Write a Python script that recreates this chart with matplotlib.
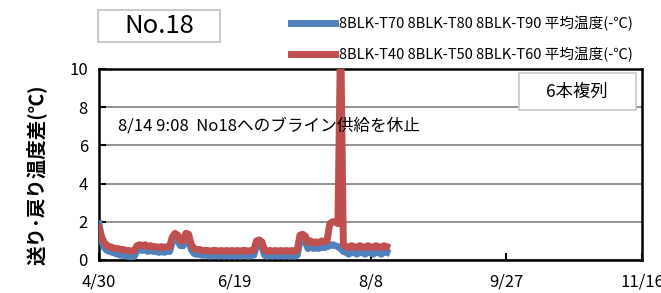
import matplotlib
matplotlib.use("Agg")
import matplotlib.pyplot as plt
from matplotlib.patches import Rectangle

plt.rcParams['font.family'] = ['Noto Sans CJK JP', 'DejaVu Sans']

# day offsets from 4/30 (daily readings)
days = list(range(0, 107))

red_vals = [1.7, 1.2, 0.9, 0.75, 0.7, 0.65, 0.6, 0.6, 0.55, 0.55,
            0.5, 0.5, 0.45, 0.5, 0.75, 0.8, 0.75, 0.8, 0.7, 0.75,
            0.7, 0.7, 0.65, 0.7, 0.65, 0.7, 0.7, 1.2, 1.4, 1.3,
            1.0, 1.0, 1.4, 1.35, 0.8, 0.6, 0.55, 0.55, 0.5, 0.5,
            0.5, 0.45, 0.5, 0.5, 0.45, 0.5, 0.45, 0.5, 0.45, 0.5,
            0.45, 0.5, 0.45, 0.5, 0.5, 0.45, 0.5, 0.5, 1.0, 1.05,
            0.95, 0.5, 0.45, 0.5, 0.45, 0.5, 0.45, 0.5, 0.45, 0.5,
            0.45, 0.5, 0.45, 0.5, 1.3, 1.35, 1.25, 0.9, 1.0, 0.9,
            0.95, 0.9, 1.0, 0.95, 1.0, 1.9, 2.0, 2.0, 1.9, 12.0,
            0.8, 0.7, 0.65, 0.75, 0.7, 0.65, 0.75, 0.7, 0.65, 0.75,
            0.7, 0.65, 0.75, 0.7, 0.65, 0.75, 0.7]

blue_vals = [1.9, 1.0, 0.65, 0.5, 0.45, 0.4, 0.35, 0.3, 0.25, 0.25,
             0.2, 0.2, 0.15, 0.2, 0.5, 0.55, 0.5, 0.55, 0.45, 0.5,
             0.45, 0.45, 0.4, 0.45, 0.4, 0.45, 0.45, 0.95, 1.1, 1.0,
             0.75, 0.75, 1.1, 1.05, 0.55, 0.35, 0.3, 0.3, 0.25, 0.25,
             0.25, 0.2, 0.25, 0.25, 0.2, 0.25, 0.2, 0.25, 0.2, 0.25,
             0.2, 0.25, 0.2, 0.25, 0.25, 0.2, 0.25, 0.25, 0.75, 0.8,
             0.7, 0.25, 0.2, 0.25, 0.2, 0.25, 0.2, 0.25, 0.2, 0.25,
             0.2, 0.25, 0.2, 0.25, 1.0, 1.05, 0.95, 0.6, 0.7, 0.6,
             0.65, 0.6, 0.7, 0.65, 0.7, 0.75, 0.8, 0.75, 0.7, 0.6,
             0.45, 0.4, 0.3, 0.45, 0.4, 0.3, 0.45, 0.4, 0.3, 0.45,
             0.4, 0.3, 0.45, 0.4, 0.3, 0.45, 0.4]

xtick_pos = [0, 50, 100, 150, 200]
xtick_labels = ["4/30", "6/19", "8/8", "9/27", "11/16"]
ytick_pos = [0, 2, 4, 6, 8, 10]

blue_label = "8BLK-T70 8BLK-T80 8BLK-T90 平均温度(-℃)"
red_label = "8BLK-T40 8BLK-T50 8BLK-T60 平均温度(-℃)"

W, H = 661, 293
fig = plt.figure(figsize=(W / 100, H / 100), dpi=100)
ax = fig.add_axes([99 / W, 1 - 260 / H, (642 - 99) / W, (260 - 69) / H])

lb, = ax.plot(days, blue_vals, color="#4F81BD", lw=5, solid_joinstyle="round", zorder=3)
lr, = ax.plot(days, red_vals, color="#C0504D", lw=5, solid_joinstyle="round", zorder=4)

ax.set_xlim(0, 200)
ax.set_ylim(0, 10)
ax.set_xticks(xtick_pos)
ax.set_xticklabels(xtick_labels, fontsize=12)
ax.set_yticks(ytick_pos)
ax.set_yticklabels([str(v) for v in ytick_pos], fontsize=12)
ax.tick_params(direction="in", length=5, width=1.5, color="black")
ax.tick_params(axis="x", pad=10)
ax.tick_params(axis="y", pad=8)
ax.yaxis.grid(True, color="#888888", lw=1.3)
ax.set_axisbelow(True)
for s in ax.spines.values():
    s.set_linewidth(1.8)
    s.set_color("black")

fig.text(36 / W, 1 - 175 / H, "送り･戻り温度差(℃)", fontsize=14, fontweight="bold",
         rotation=90, ha="center", va="center")

fig.text(118 / W, 1 - 126 / H, "8/14 9:08  No18へのブライン供給を休止",
         fontsize=12, va="center", ha="left", zorder=5)

# "6本複列" box
fig.add_artist(Rectangle((519 / W, 1 - 110 / H), 117 / W, 37 / H, transform=fig.transFigure,
                         fc="white", ec="#c8c8c8", lw=1.2, zorder=6))
fig.text(577 / W, 1 - 92 / H, "6本複列", fontsize=12.5, ha="center", va="center", zorder=7)

# title box
fig.add_artist(Rectangle((98 / W, 1 - 42 / H), 122 / W, 32 / H, transform=fig.transFigure,
                         fc="white", ec="#c0c0c0", lw=1.2, zorder=6))
fig.text(159 / W, 1 - 26 / H, "No.18", fontsize=18.5, ha="center", va="center", zorder=7)

fig.legend([lb, lr], [blue_label, red_label], loc="upper left",
           bbox_to_anchor=(284 / W, 1 - 9 / H), frameon=False, fontsize=10.5,
           handlelength=3.0, handletextpad=0.3, labelspacing=1.05, borderpad=0)

fig.savefig("out.png", dpi=100)
